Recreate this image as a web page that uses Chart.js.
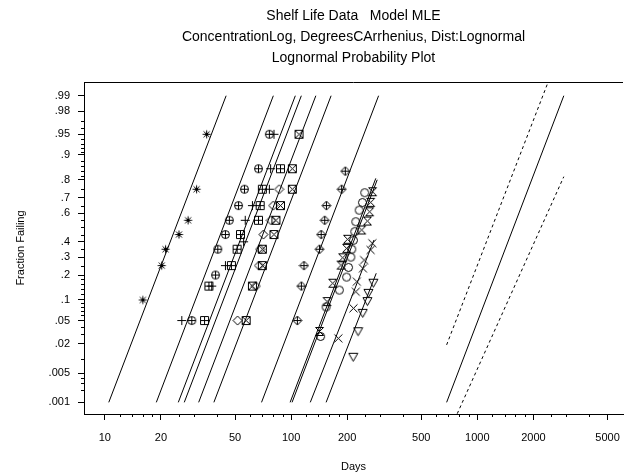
<!DOCTYPE html>
<html>
<head>
<meta charset="utf-8">
<script src="https://cdn.jsdelivr.net/npm/chart.js@4.4.1/dist/chart.umd.min.js"></script>
<style>
  html, body { margin: 0; padding: 0; background: #fff; }
</style>
</head>
<body>
<canvas id="chart" width="628" height="476"></canvas>
<script>
// ---- values: [days, fraction failing] ----
const asterisk    = [[16.0,.10],[20.2,.25],[21.2,.35],[25.0,.45],[28.0,.55],[31.1,.75],[35.2,.95]];
const circlePlus  = [[29.3,.05],[39.3,.20],[40.4,.35],[44.4,.45],[46.6,.55],[52.2,.65],[56.2,.75],[66.8,.85],[76.4,.95]];
const plus        = [[25.9,.05],[37.5,.15],[44.4,.25],[55.6,.40],[56.7,.55],[62.0,.65],[76.4,.75],[77.6,.85],[80.9,.95]];
const squarePlus  = [[34.3,.05],[36.2,.15],[47.8,.25],[51.3,.35],[53.5,.45],[66.8,.55],[68.2,.65],[70.1,.75],[87.7,.85]];
const diamond     = [[51.6,.05],[64.6,.15],[67.3,.25],[68.2,.35],[71.0,.45],[78.0,.55],[80.2,.65],[86.3,.75]];
const squareX     = [[57.4,.05],[62.0,.15],[70.1,.25],[70.1,.35],[80.9,.45],[82.9,.55],[87.7,.65],[101.6,.75],[101.6,.85],[110.3,.95]];
const diamondPlus = [[108.0,.05],[113.5,.15],[117.3,.25],[142.1,.35],[145.0,.45],[151.6,.55],[154.8,.65],[186.8,.75],[195.4,.84]];
const circle      = [[144.0,.027],[154.2,.08],[181.6,.134],[198.6,.19],[203.5,.24],[209.3,.30],[211.8,.35],[216.3,.41],[219.8,.47],[222.5,.54],[232.0,.62],[241.5,.67],[248.5,.73]];
const hourglass   = [[142.1,.033],[156.0,.095],[167.3,.162],[185.2,.253],[189.1,.296],[198.6,.356],[201.0,.417],[239.5,.482],[256.8,.545],[264.1,.609],[267.4,.671],[274.0,.736]];
const crossX      = [[179.4,.025],[216.3,.0765],[222.5,.128],[225.3,.169],[243.0,.235],[246.5,.282],[267.3,.345],[272.9,.39]];
const triangle    = [[215.6,.0109],[229.0,.0327],[242.5,.0645],[256.8,.095],[260.0,.122],[276.4,.162]];

// fitted lines (end points)
const asteriskLine    = [[10.5,.001],[44.8,.99]];
const circlePlusLine  = [[18.9,.001],[80.3,.99]];
const plusLine        = [[24.8,.001],[105.4,.99]];
const squarePlusLine  = [[26.7,.001],[113.5,.99]];
const diamondLine     = [[31.9,.001],[135.8,.99]];
const squareXLine     = [[38.5,.001],[164.0,.99]];
const diamondPlusLine = [[69.4,.001],[295.0,.99]];
const circleLine      = [[98.8,.001],[285.0,.807]];
const hourglassLine   = [[101.2,.001],[290.0,.80]];
const crossLine       = [[126.8,.001],[278.6,.412]];
const triangleLine    = [[154.2,.001],[286.5,.209]];
const useLine         = [[684,.001],[2912,.99]];
const useLower        = [[684,.019],[2404,.995]];
const useUpper        = [[780,.0005],[2912,.815]];

// axes
const xMin = 7.73, xMax = 6053;
const fracMin = 0.00049, fracMax = 0.9949;
const xMajor = [10, 20, 50, 100, 200, 500, 1000, 2000, 5000];
const xMinor = [12,14,16,18,25,30,40,60,70,80,90,120,140,160,180,250,300,400,600,700,800,900,1200,1400,1600,1800,2500,3000,4000];
const yMajor = [.001,.005,.02,.05,.1,.2,.3,.4,.6,.7,.8,.9,.95,.98,.99];
const yLabels = ['.001','.005','.02','.05','.1','.2','.3','.4','.6','.7','.8','.9','.95','.98','.99'];
const yMinor = [.002,.003,.004,.01,.03,.04,.06,.07,.08,.09,.12,.14,.16,.18,.25,.35,.45,.5,.55,.65,.75,.82,.84,.86,.88,.91,.92,.93,.94,.96,.97];

const FONT = "'Liberation Sans', Arial, sans-serif";

// inverse normal cdf (Acklam)
function probit(p) {
  const a = [-39.69683028665376, 220.9460984245205, -275.9285104469687, 138.3577518672690, -30.66479806614716, 2.506628277459239];
  const b = [-54.47609879822406, 161.5858368580409, -155.6989798598866, 66.80131188771972, -13.28068155288572];
  const c = [-0.007784894002430293, -0.3223964580411365, -2.400758277161838, -2.549732539343734, 4.374664141464968, 2.938163982698783];
  const d = [0.007784695709041462, 0.3224671290700398, 2.445134137142996, 3.754408661907416];
  const lo = 0.02425;
  if (p < lo || p > 1 - lo) {
    const q = Math.sqrt(-2 * Math.log(p < lo ? p : 1 - p));
    const v = (((((c[0]*q+c[1])*q+c[2])*q+c[3])*q+c[4])*q+c[5]) / ((((d[0]*q+d[1])*q+d[2])*q+d[3])*q+1);
    return p < lo ? v : -v;
  }
  const q = p - 0.5, r = q * q;
  return (((((a[0]*r+a[1])*r+a[2])*r+a[3])*r+a[4])*r+a[5])*q / (((((b[0]*r+b[1])*r+b[2])*r+b[3])*r+b[4])*r+1);
}

// small marker images
function glyph(kind) {
  const c = document.createElement('canvas');
  c.width = 11; c.height = 11;
  const g = c.getContext('2d');
  g.strokeStyle = '#000';
  g.lineWidth = 1;
  g.beginPath();
  const line = (x1, y1, x2, y2) => { g.moveTo(x1, y1); g.lineTo(x2, y2); };
  const plusMark = () => { line(5.5, 1.5, 5.5, 9.5); line(1.5, 5.5, 9.5, 5.5); };
  const xMark = () => { line(1.5, 1.5, 9.5, 9.5); line(9.5, 1.5, 1.5, 9.5); };
  const diam = () => { g.moveTo(5.5, 1); g.lineTo(10, 5.5); g.lineTo(5.5, 10); g.lineTo(1, 5.5); g.closePath(); };
  switch (kind) {
    case 'star': line(5.5, 1.5, 5.5, 9.5); line(1.5, 5.5, 9.5, 5.5); line(2.5, 2.5, 8.5, 8.5); line(8.5, 2.5, 2.5, 8.5); break;
    case 'circlePlus': g.arc(5.5, 5.5, 4, 0, Math.PI * 2); plusMark(); break;
    case 'plus': line(5.5, 1, 5.5, 10); line(1, 5.5, 10, 5.5); break;
    case 'squarePlus': g.rect(1.5, 1.5, 8, 8); plusMark(); break;
    case 'diamond': diam(); break;
    case 'squareX': g.rect(1.5, 1.5, 8, 8); xMark(); break;
    case 'diamondPlus': diam(); plusMark(); break;
    case 'circle': g.arc(5.5, 5.5, 4, 0, Math.PI * 2); break;
    case 'hourglass': line(1.5, 1.5, 9.5, 1.5); line(1.5, 9.5, 9.5, 9.5); xMark(); break;
    case 'cross': xMark(); break;
    case 'triDown': g.moveTo(1, 1.5); g.lineTo(10, 1.5); g.lineTo(5.5, 9.5); g.closePath(); break;
  }
  g.stroke();
  return c;
}

const toXY = pts => pts.map(([d, f]) => ({ x: d, y: probit(f) }));

function markers(pts, kind) {
  return { data: toXY(pts), pointStyle: glyph(kind), pointRadius: 4, showLine: false };
}

function fitLine(pts, dash) {
  return { data: toXY(pts), showLine: true, pointRadius: 0, borderColor: '#000', borderWidth: 1, borderDash: dash || [] };
}

// frame top edge and the short minor tick marks
const axisExtras = {
  id: 'axisExtras',
  afterDraw(chart) {
    const { ctx, chartArea: a, scales: { x, y } } = chart;
    ctx.save();
    ctx.strokeStyle = '#000';
    ctx.lineWidth = 1;
    ctx.beginPath();
    ctx.moveTo(a.left, Math.round(a.top) + 0.5);
    ctx.lineTo(a.right, Math.round(a.top) + 0.5);
    x.ticks.forEach(t => {
      if (t.major) return;
      const px = Math.round(x.getPixelForValue(t.value)) + 0.5;
      ctx.moveTo(px, a.bottom);
      ctx.lineTo(px, a.bottom + 3);
    });
    y.ticks.forEach(t => {
      if (t.major) return;
      const py = Math.round(y.getPixelForValue(t.value)) + 0.5;
      ctx.moveTo(a.left - 3, py);
      ctx.lineTo(a.left, py);
    });
    ctx.stroke();
    ctx.restore();
  }
};

const tickFont = { family: FONT, size: 11 };
const majorOnly = c => (c.tick && c.tick.major ? '#000' : 'rgba(0,0,0,0)');

new Chart(document.getElementById('chart'), {
  type: 'scatter',
  data: {
    datasets: [
      markers(asterisk, 'star'), fitLine(asteriskLine),
      markers(circlePlus, 'circlePlus'), fitLine(circlePlusLine),
      markers(plus, 'plus'), fitLine(plusLine),
      markers(squarePlus, 'squarePlus'), fitLine(squarePlusLine),
      markers(diamond, 'diamond'), fitLine(diamondLine),
      markers(squareX, 'squareX'), fitLine(squareXLine),
      markers(diamondPlus, 'diamondPlus'), fitLine(diamondPlusLine),
      markers(circle, 'circle'), fitLine(circleLine),
      markers(hourglass, 'hourglass'), fitLine(hourglassLine),
      markers(crossX, 'cross'), fitLine(crossLine),
      markers(triangle, 'triDown'), fitLine(triangleLine),
      fitLine(useLine), fitLine(useLower, [3, 3]), fitLine(useUpper, [3, 3])
    ]
  },
  options: {
    responsive: false,
    animation: false,
    layout: { padding: 0 },
    plugins: {
      legend: { display: false },
      tooltip: { enabled: false },
      title: {
        display: true,
        fullSize: false,
        text: ['Shelf Life Data   Model MLE', 'ConcentrationLog, DegreesCArrhenius, Dist:Lognormal', 'Lognormal Probability Plot'],
        color: '#000',
        font: { family: FONT, size: 14, weight: 'normal', lineHeight: '21px' },
        padding: { top: 6, bottom: 13 }
      }
    },
    scales: {
      x: {
        type: 'logarithmic',
        min: xMin,
        max: xMax,
        bounds: 'data',
        afterBuildTicks: s => {
          s.ticks = xMajor.map(v => ({ value: v, major: true }))
            .concat(xMinor.map(v => ({ value: v, major: false })))
            .sort((a, b) => a.value - b.value);
        },
        afterFit: s => { s.height = 62; s.paddingLeft = 0; s.paddingRight = 0; },
        ticks: {
          autoSkip: false, maxRotation: 0, minRotation: 0, padding: 11, color: '#000', font: tickFont,
          callback: (v, i, t) => (t[i].major ? String(v) : '')
        },
        grid: { drawOnChartArea: false, tickLength: 6, tickColor: majorOnly },
        border: { color: '#000', width: 1 },
        title: { display: true, text: 'Days', color: '#000', font: tickFont, padding: { top: 0, bottom: 2 } }
      },
      y: {
        type: 'linear',
        min: probit(fracMin),
        max: probit(fracMax),
        bounds: 'data',
        afterBuildTicks: s => {
          s.ticks = yMajor.map((p, i) => ({ value: probit(p), major: true, lab: yLabels[i] }))
            .concat(yMinor.map(p => ({ value: probit(p), major: false, lab: '' })))
            .sort((a, b) => a.value - b.value);
        },
        afterFit: s => { s.width = 84; s.paddingTop = 0; s.paddingBottom = 0; },
        ticks: {
          autoSkip: false, padding: 8, color: '#000', font: tickFont,
          callback: (v, i, t) => t[i].lab
        },
        grid: { drawOnChartArea: false, tickLength: 6, tickColor: majorOnly },
        border: { color: '#000', width: 1 },
        title: { display: true, text: 'Fraction Failing', color: '#000', font: tickFont, padding: { top: 14, bottom: 0 } }
      }
    }
  },
  plugins: [axisExtras]
});
</script>
</body>
</html>
